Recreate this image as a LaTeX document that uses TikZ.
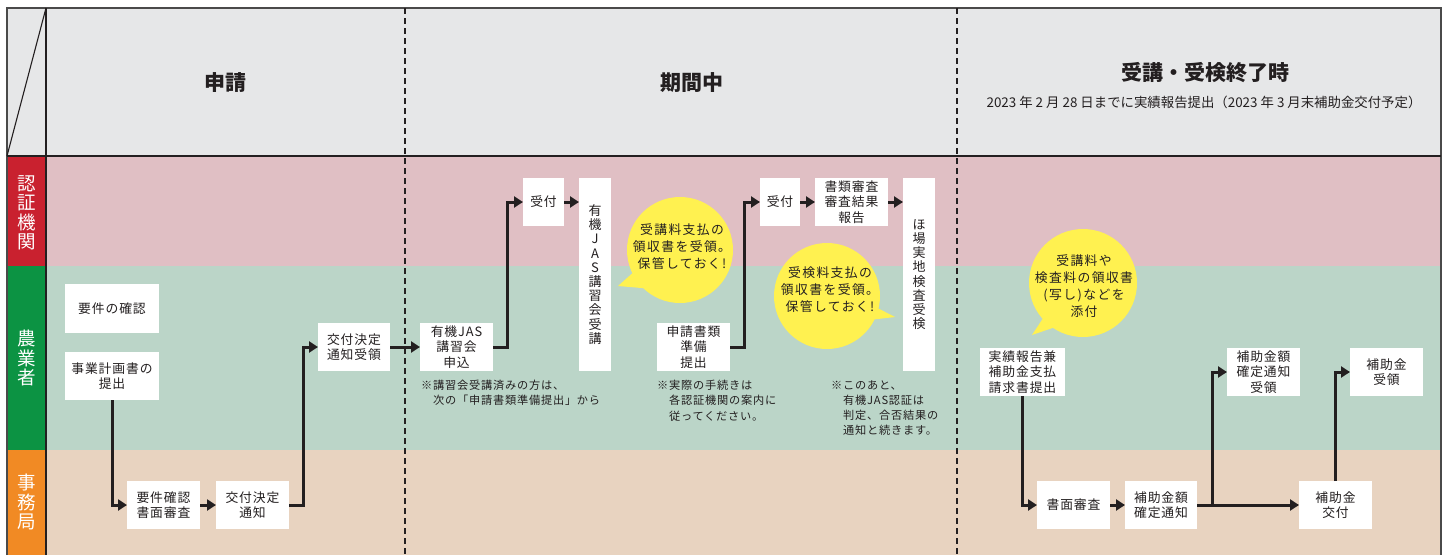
\documentclass[tikz,border=0pt]{standalone}
\usepackage{fontspec}
\setmainfont{Noto Sans CJK JP}
\newfontfamily\jpsp{Noto Sans CJK JP}[LetterSpace=7]
\newfontfamily\jpbub{Noto Sans CJK JP}[LetterSpace=11]
\usetikzlibrary{arrows.meta}
\definecolor{ink}{HTML}{231F20}
\definecolor{frameline}{HTML}{4A4A4A}
\definecolor{headbg}{HTML}{E6E7E8}
\definecolor{redlab}{HTML}{C9212F}
\definecolor{greenlab}{HTML}{0C9343}
\definecolor{orangelab}{HTML}{F18A24}
\definecolor{pinkband}{HTML}{E0BFC4}
\definecolor{greenband}{HTML}{BBD5C8}
\definecolor{beigeband}{HTML}{E8D3C0}
\definecolor{bubble}{HTML}{FFF150}
\tikzset{
  box/.style={fill=white, inner sep=0pt, outer sep=0pt, align=center, text=ink,
    font=\jpsp\fontsize{12.8}{15.5}\selectfont},
  vbox/.style={box, font=\fontsize{13}{14.2}\selectfont, minimum width=32pt, minimum height=193pt},
  arr/.style={draw=ink, line width=3pt, -{Triangle[length=9pt,width=11pt]}},
  lanelab/.style={text=white, align=center, font=\fontsize{18.5}{19.5}\selectfont},
  note/.style={anchor=north west, inner sep=0pt, align=left, text=ink,
    font=\jpsp\fontsize{11.2}{15.2}\selectfont},
  bubtext/.style={align=center, text=ink, inner sep=0pt, font=\jpbub\fontsize{12.8}{17}\selectfont},
  divider/.style={draw=ink, line width=1.2pt, dash pattern=on 6pt off 4pt},
  title/.style={text=ink, font=\fontsize{21}{24}\selectfont\bfseries}
}
\begin{document}
\begin{tikzpicture}[x=1pt,y=-1pt]
\useasboundingbox (0,0) rectangle (1448,555);
% header and bands
\fill[headbg] (7,8) rectangle (1441,156);
\fill[pinkband] (46,156) rectangle (1441,266);
\fill[greenband] (46,266) rectangle (1441,450);
\fill[beigeband] (46,450) rectangle (1441,555);
\fill[redlab] (7,156) rectangle (46,266);
\fill[greenlab] (7,266) rectangle (46,450);
\fill[orangelab] (7,450) rectangle (46,555);
% frame
\draw[frameline, line width=1.5pt] (7,555) -- (7,8) -- (1441,8) -- (1441,555);
\draw[ink, line width=1.3pt] (7,156) -- (1441,156);
\draw[ink, line width=1.3pt] (46,8) -- (46,555);
\draw[ink, line width=1.1pt] (46,8) -- (7,156);
\draw[divider] (405,8) -- (405,555);
\draw[divider] (957,8) -- (957,555);
% lane labels
\node[lanelab] (l1) at (26.5,213) {認\\証\\機\\関};
\node[lanelab] (l2) at (26.5,358) {農\\業\\者};
\node[lanelab] (l3) at (26.5,502) {事\\務\\局};
% header titles
\node[title] (h1) at (225,83) {申請};
\node[title] (h2) at (692,83) {期間中};
\node[title] (h3) at (1205,73) {受講・受検終了時};
\node[text=ink, font=\fontsize{13.4}{15}\selectfont] (h4) at (1204,102) {2023 年 2 月 28 日までに実績報告提出（2023 年 3 月末補助金交付予定）};
% bubbles
\fill[bubble] (680,250) circle (53);
\fill[bubble] (618,286) -- (645,262) -- (665,290) -- cycle;
\node[bubtext] (t1) at (682,247) {受講料支払の\\領収書を受領。\\保管しておく!};
\fill[bubble] (827,296) circle (53);
\fill[bubble] (895,317) -- (858,298) -- (852,322) -- cycle;
\node[bubtext] (t2) at (830,290) {受検料支払の\\領収書を受領。\\保管しておく!};
\fill[bubble] (1083,283) circle (54);
\fill[bubble] (1032,335) -- (1055,300) -- (1070,322) -- cycle;
\node[bubtext] (t3) at (1084,286) {受講料や\\検査料の領収書\\(写し)などを\\添付};
% boxes phase 1
\node[box, minimum width=94pt, minimum height=49pt] (a1) at (112,308.5) {要件の確認};
\node[box, minimum width=94pt, minimum height=48pt] (a2) at (112,376) {事業計画書の\\提出};
\node[box, minimum width=73pt, minimum height=48pt] (a3) at (163.5,505) {要件確認\\書面審査};
\node[box, minimum width=73pt, minimum height=48pt] (a4) at (252.5,505) {交付決定\\通知};
\node[box, minimum width=72pt, minimum height=48pt] (a5) at (354,347) {交付決定\\通知受領};
% phase 2
\node[box, minimum width=73pt, minimum height=48pt] (b1) at (456.5,347) {有機JAS\\講習会\\申込};
\node[box, minimum width=41pt, minimum height=48pt] (b2) at (543.5,202) {受付};
\node[vbox] (b3) at (595,274.5) {有\\機\\J\\A\\S\\講\\習\\会\\受\\講};
\node[box, minimum width=73pt, minimum height=48pt] (b4) at (693.5,347) {申請書類\\準備\\提出};
\node[box, minimum width=40pt, minimum height=48pt] (b5) at (780,202) {受付};
\node[box, minimum width=73pt, minimum height=48pt] (b6) at (851.5,202) {書類審査\\審査結果\\報告};
\node[vbox] (b7) at (919,274.5) {ほ\\場\\実\\地\\検\\査\\受\\検};
% notes
\node[note] (n1) at (421,380) {※講習会受講済みの方は、\\　次の「申請書類準備提出」から};
\node[note] (n2) at (657,380) {※実際の手続きは\\　各認証機関の案内に\\　従ってください。};
\node[note] (n3) at (831,380) {※このあと、\\　有機JAS認証は\\　判定、合否結果の\\　通知と続きます。};
% phase 3
\node[box, minimum width=85pt, minimum height=48pt] (c1) at (1022.5,372) {実績報告兼\\補助金支払\\請求書提出};
\node[box, minimum width=73pt, minimum height=48pt] (c2) at (1073.5,505) {書面審査};
\node[box, minimum width=72pt, minimum height=48pt] (c3) at (1161,505) {補助金額\\確定通知};
\node[box, minimum width=73pt, minimum height=48pt] (c4) at (1263.5,372) {補助金額\\確定通知\\受領};
\node[box, minimum width=73pt, minimum height=48pt] (c5) at (1335.5,505) {補助金\\交付};
\node[box, minimum width=73pt, minimum height=48pt] (c6) at (1386.5,372) {補助金\\受領};
% arrows
\draw[arr] (a2.south) |- (a3.west);
\draw[arr] (a3) -- (a4);
\draw[arr] (a4.east) -- ++(14,0) |- (a5.west);
\draw[arr] (a5) -- (b1);
\draw[arr] (b1.east) -- ++(14,0) |- (b2.west);
\draw[arr] (b2.east) -- (b2.east -| b3.west);
\draw[arr] (b4.east) -- ++(14,0) |- (b5.west);
\draw[arr] (b5) -- (b6);
\draw[arr] (b6.east) -- (b6.east -| b7.west);
\draw[arr] (c1.south) |- (c2.west);
\draw[arr] (c2) -- (c3);
\draw[arr] (c3) -- (c5);
\path (c3.east) ++(15,0) coordinate (br);
\draw[arr] (br) |- (c4.west);
\draw[arr] (c5.north) |- (c6.west);
\end{tikzpicture}
\end{document}
